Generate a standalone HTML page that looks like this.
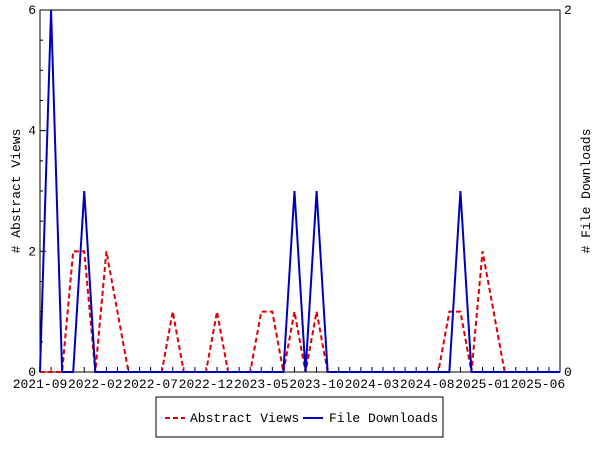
<!DOCTYPE html>
<html><head><meta charset="utf-8"><style>
body{margin:0;background:#fff}
svg text{font-family:"Liberation Mono","DejaVu Sans Mono",monospace;font-size:13px;fill:#000}
</style></head><body>
<svg id="c" width="600" height="450" viewBox="0 0 600 450">
<rect x="40" y="10" width="520" height="362" fill="#fff" stroke="#000" stroke-width="1"/>
<g id="axes"></g>
<g id="series"></g>
<text x="20" y="191" transform="rotate(-90 20 191)" text-anchor="middle"># Abstract Views</text>
<text x="590" y="191" transform="rotate(-90 590 191)" text-anchor="middle"># File Downloads</text>
<g>
<rect x="156" y="397" width="287" height="40" fill="#fff" stroke="#000"/>
<line x1="165" y1="418" x2="185" y2="418" stroke="#dd0000" stroke-width="2" stroke-dasharray="5,3"/>
<text x="190" y="422">Abstract Views</text>
<line x1="303" y1="418" x2="323" y2="418" stroke="#0000bb" stroke-width="2"/>
<text x="329" y="422">File Downloads</text>
</g>
</svg>
<script>
const monthLabels=["2021-09","2022-02","2022-07","2022-12","2023-05","2023-10","2024-03","2024-08","2025-01","2025-06"];
const labelMonthIdx=[0,5,10,15,20,25,30,35,40,45];
const leftTicks=[0,2,4,6];
const rightTicks=[0,2];
// monthly values, index 0 = 2021-09
const views=[0,0,0,2,2,0,2,1,0,0,0,0,1,0,0,0,1,0,0,0,1,1,0,1,0,1,0,0,0,0,0,0,0,0,0,0,0,1,1,0,2,1,0,0,0,0,0,0];
const downloads=[0,2,0,0,1,0,0,0,0,0,0,0,0,0,0,0,0,0,0,0,0,0,0,1,0,1,0,0,0,0,0,0,0,0,0,0,0,0,1,0,0,0,0,0,0,0,0,0];
const X0=40,X1=560,Y0=372,Y1=10,NM=47;
const x=i=>X0+(X1-X0)*i/NM;
const yL=v=>Y0-(Y0-Y1)*v/6;
const yR=v=>Y0-(Y0-Y1)*v/2;
const NS="http://www.w3.org/2000/svg";
const ax=document.getElementById('axes'),se=document.getElementById('series');
function mk(t,a,p){const e=document.createElementNS(NS,t);for(const k in a)e.setAttribute(k,a[k]);p.appendChild(e);return e;}
for(let i=0;i<=NM;i++){
  const l=mk('line',{x1:x(i),x2:x(i),y1:Y0,y2:Y0-5,stroke:'#000'},ax);
  
  
}
labelMonthIdx.forEach((m,k)=>{
  const t=mk('text',{x:x(m),y:388,'text-anchor':'middle'},ax);t.textContent=monthLabels[k];
  
  
});
leftTicks.forEach(v=>{
  const t=mk('text',{x:36,y:yL(v)+4,'text-anchor':'end'},ax);t.textContent=v;
  
  
  for(let j=0;j<2;j++){}
});
for(let v=0;v<=6;v+=0.5){mk('line',{x1:X0,x2:X0+(v%2===0?6:3),y1:yL(v),y2:yL(v),stroke:'#000'},ax);}
rightTicks.forEach(v=>{
  const t=mk('text',{x:564,y:yR(v)+4,'text-anchor':'start'},ax);t.textContent=v;
  
  
});
const pv=mk('polyline',{points:views.map((v,i)=>x(i)+','+yL(v)).join(' '),fill:'none',stroke:'#dd0000','stroke-width':2,'stroke-dasharray':'5,3'},se);


const pd=mk('polyline',{points:downloads.map((v,i)=>x(i)+','+yR(v)).join(' '),fill:'none',stroke:'#0000bb','stroke-width':2},se);


</script>
</body></html>
